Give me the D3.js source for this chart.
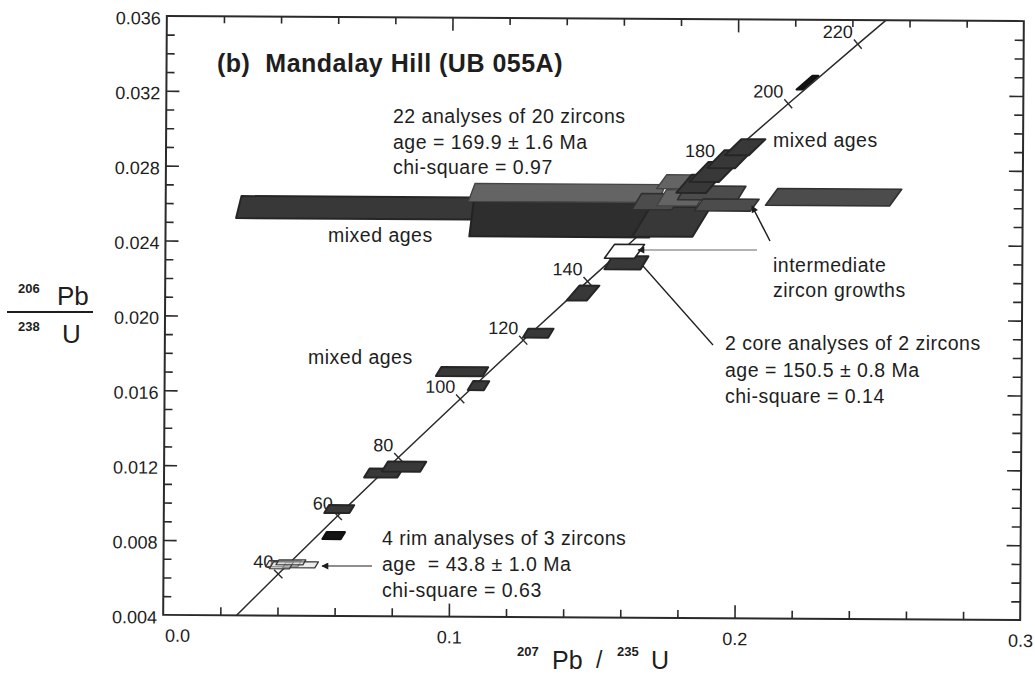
<!DOCTYPE html>
<html>
<head>
<meta charset="utf-8">
<script src="https://cdn.jsdelivr.net/npm/d3@7"></script>
<style>
  body { margin: 0; background: #fff; }
  svg text { font-family: "Liberation Sans", Arial, Helvetica, sans-serif; fill: #1e1e1e; }
</style>
</head>
<body>
<svg id="chart" width="1035" height="676"></svg>
<script>
// ---- axis ticks ----
const xMajorTicks = [0.0, 0.1, 0.2, 0.3];
const xMajorLabels = ["0.0", "0.1", "0.2", "0.3"];
const yMajorTicks = [0.004, 0.008, 0.012, 0.016, 0.020, 0.024, 0.028, 0.032, 0.036];
const yMajorLabels = ["0.004", "0.008", "0.012", "0.016", "0.020", "0.024", "0.028", "0.032", "0.036"];

// ---- concordia reference points (age in Ma, 207Pb/235U, 206Pb/238U) ----
const concAges = [20, 40, 60, 80, 100, 120, 140, 160, 180, 200, 220, 240];
const concX = [0.019892, 0.040180, 0.060872, 0.081975, 0.103498, 0.125449, 0.147837, 0.170670, 0.193957, 0.217707, 0.241930, 0.266635];
const concY = [0.003107, 0.006224, 0.009351, 0.012487, 0.015633, 0.018789, 0.021955, 0.025131, 0.028316, 0.031511, 0.034717, 0.037932];
const concLabelled = [40, 60, 80, 100, 120, 140, 180, 200, 220];

// ---- analyses: centre, 2-sigma half widths, error correlation, rendering kind ----
const anX   = [0.0961, 0.1386, 0.1404, 0.1771, 0.1719, 0.1806, 0.1911, 0.1964, 0.1778, 0.1866, 0.1918, 0.1974, 0.2027,
               0.2338, 0.2244, 0.1614, 0.1607, 0.1463, 0.1307, 0.1041, 0.1099, 0.0768, 0.0840, 0.0614, 0.0595,
               0.0420, 0.0480, 0.0413, 0.0446];
const anY   = [0.02581, 0.02528, 0.02667, 0.02517, 0.02624, 0.02645, 0.02672, 0.02608, 0.02731, 0.02720, 0.02784, 0.02853, 0.02917,
               0.02653, 0.03264, 0.02296, 0.02357, 0.02133, 0.01917, 0.01709, 0.01635, 0.01165, 0.01200, 0.00971, 0.00829,
               0.00677, 0.00672, 0.00669, 0.00685];
const anSx  = [0.0705, 0.0315, 0.0333, 0.0105, 0.0070, 0.0070, 0.0105, 0.0098, 0.0042, 0.0052, 0.0052, 0.0049, 0.0042,
               0.0217, 0.00105, 0.0063, 0.00525, 0.0035, 0.0044, 0.0082, 0.0028, 0.0058, 0.0067, 0.0044, 0.0032,
               0.0056, 0.0056, 0.0035, 0.0047];
const anSy  = [0.00059, 0.00096, 0.00048, 0.00080, 0.00043, 0.00043, 0.00037, 0.00032, 0.00037, 0.00048, 0.00053, 0.00048, 0.00043,
               0.00045, 0.00037, 0.00035, 0.00037, 0.00040, 0.00024, 0.00024, 0.00024, 0.00024, 0.00027, 0.00021, 0.00019,
               0.00016, 0.00016, 0.00019, 0.00013];
const anRho = [0.2, 0.1, 0.3, 0.5, 0.5, 0.5, 0.5, 0.6, 0.6, 0.7, 0.8, 0.8, 0.85,
               0.6, 0.95, 0.5, 0.6, 0.7, 0.5, 0.5, 0.5, 0.5, 0.5, 0.5, 0.5,
               0.5, 0.5, 0.5, 0.5];
const anKind = ["dark", "darker", "light", "dark", "mid", "light", "mid", "mid", "light", "dark", "dark", "dark", "dark",
                "mid", "black", "dark", "open", "dark", "dark", "dark", "dark", "dark", "dark", "dark", "black",
                "rim", "rim", "rim", "rim"];

const kindStyle = {
  darker: { fill: "#2e2e2e", stroke: "#232323", sw: 2 },
  dark:   { fill: "#383838", stroke: "#262626", sw: 2 },
  mid:    { fill: "#4c4c4c", stroke: "#303030", sw: 1.6 },
  light:  { fill: "#646464", stroke: "#444444", sw: 1.4 },
  black:  { fill: "#141414", stroke: "#111111", sw: 2 },
  open:   { fill: "#ffffff", stroke: "#222222", sw: 1.6 },
  rim:    { fill: "rgba(215,215,215,0.45)", stroke: "#3a3a3a", sw: 1.3 }
};

(function () {
const svg = d3.select("#chart");
const pLeft = 165, pRight = 1022, pTop = 18.5, pBottom = 617.5;

const x = d3.scaleLinear().domain([0, 0.3]).range([pLeft, pRight]);
const y = d3.scaleLinear().domain([0.004, 0.036]).range([pBottom, pTop]);

// the plotted frame sits very slightly turned
const plot = svg.append("g").attr("transform", "rotate(0.35,594,319)");

plot.append("defs").append("clipPath").attr("id", "plotClip")
  .append("rect").attr("x", pLeft).attr("y", pTop).attr("width", pRight - pLeft).attr("height", pBottom - pTop);

// ---- axes (ticks point inward) ----
const xMinor = d3.range(0.02, 0.3, 0.02).filter(v => Math.abs(v - 0.1) > 1e-6 && Math.abs(v - 0.2) > 1e-6);
const yMinor = d3.range(0.005, 0.036, 0.001).filter(v => !yMajorTicks.some(t => Math.abs(t - v) < 1e-7));

function styleAxis(g) {
  g.select(".domain").remove();
  g.selectAll(".tick line").attr("stroke", "#2a2a2a").attr("stroke-width", 1.6);
  g.selectAll(".tick text").attr("fill", "#1e1e1e").style("font-size", "18px")
    .style("font-family", '"Liberation Sans", Arial, sans-serif');
}

plot.append("g").attr("transform", `translate(0,${pBottom})`)
  .call(d3.axisBottom(x).tickValues(xMinor).tickSize(-8).tickFormat(""))
  .call(styleAxis);
const bx = plot.append("g").attr("transform", `translate(0,${pBottom})`)
  .call(d3.axisBottom(x).tickValues(xMajorTicks).tickSize(-13).tickPadding(14)
    .tickFormat((d, i) => xMajorLabels[i]))
  .call(styleAxis);
bx.selectAll(".tick text").filter((d, i) => i === 0).attr("dx", "14");
bx.selectAll(".tick line").filter(d => d === 0 || d === 0.3).remove();

plot.append("g").attr("transform", `translate(0,${pTop})`)
  .call(d3.axisTop(x).tickValues(xMinor).tickSize(-7).tickFormat(""))
  .call(styleAxis);
plot.append("g").attr("transform", `translate(0,${pTop})`)
  .call(d3.axisTop(x).tickValues([0.1, 0.2]).tickSize(-13).tickFormat(""))
  .call(styleAxis);

plot.append("g").attr("transform", `translate(${pLeft},0)`)
  .call(d3.axisLeft(y).tickValues(yMinor).tickSize(-8).tickFormat(""))
  .call(styleAxis);
const ly = plot.append("g").attr("transform", `translate(${pLeft},0)`)
  .call(d3.axisLeft(y).tickValues(yMajorTicks).tickSize(-13).tickPadding(6)
    .tickFormat((d, i) => yMajorLabels[i]))
  .call(styleAxis);
ly.selectAll(".tick text").attr("dy", "0.45em");
ly.selectAll(".tick line").filter(d => d === 0.004 || d === 0.036).remove();

plot.append("g").attr("transform", `translate(${pRight},0)`)
  .call(d3.axisRight(y).tickValues(yMinor).tickSize(-9).tickFormat(""))
  .call(styleAxis);
plot.append("g").attr("transform", `translate(${pRight},0)`)
  .call(d3.axisRight(y).tickValues(yMajorTicks.slice(1, -1)).tickSize(-14).tickFormat(""))
  .call(styleAxis);

// frame
plot.append("rect").attr("x", pLeft).attr("y", pTop)
  .attr("width", pRight - pLeft).attr("height", pBottom - pTop)
  .attr("fill", "none").attr("stroke", "#2a2a2a").attr("stroke-width", 2);

// ---- concordia ----
const conc = concAges.map((a, i) => ({ age: a, px: x(concX[i]), py: y(concY[i]) }));
plot.append("path")
  .datum(conc)
  .attr("clip-path", "url(#plotClip)")
  .attr("fill", "none").attr("stroke", "#2b2b2b").attr("stroke-width", 1.5)
  .attr("d", d3.line().x(d => d.px).y(d => d.py).curve(d3.curveCatmullRom));

const tickPts = conc.filter(d => d.age >= 40 && d.age <= 220).map(d => {
  const i = concAges.indexOf(d.age);
  const a = conc[i - 1], b = conc[i + 1];
  const dx = b.px - a.px, dy = b.py - a.py, len = Math.hypot(dx, dy);
  return { ...d, nx: -dy / len, ny: dx / len };
});
plot.append("g").selectAll("line").data(tickPts).join("line")
  .attr("x1", d => d.px - d.nx * 6).attr("y1", d => d.py - d.ny * 6)
  .attr("x2", d => d.px + d.nx * 6).attr("y2", d => d.py + d.ny * 6)
  .attr("stroke", "#2b2b2b").attr("stroke-width", 1.4);

plot.append("g").selectAll("text").data(tickPts.filter(d => concLabelled.includes(d.age))).join("text")
  .attr("x", d => d.px - 5).attr("y", d => d.py - 6)
  .attr("text-anchor", "end").style("font-size", "18px")
  .text(d => d.age);

// ---- analyses drawn as slanted slabs ----
const analyses = anX.map((v, i) => ({
  cx: v, cy: anY[i], sx: anSx[i], sy: anSy[i], rho: anRho[i], kind: anKind[i]
}));
const slab = d => {
  const px = x(d.cx), py = y(d.cy);
  const hw = x(d.cx + d.sx) - px, hh = y(d.cy - d.sy) - py;
  const L = d.rho * hh * 1.2;
  return d3.line()([
    [px - hw + L, py - hh], [px + hw + L, py - hh],
    [px + hw - L, py + hh], [px - hw - L, py + hh]
  ]) + "Z";
};
plot.append("g").selectAll("path").data(analyses).join("path")
  .attr("d", slab)
  .attr("fill", d => kindStyle[d.kind].fill)
  .attr("stroke", d => kindStyle[d.kind].stroke)
  .attr("stroke-width", d => kindStyle[d.kind].sw)
  .attr("stroke-linejoin", "round");

// ---- annotations ----
const ann = svg.append("g");
const font = "19.5px";

ann.append("text").attr("x", 217).attr("y", 72)
  .style("font-size", "25px").style("font-weight", "bold").style("letter-spacing", "0.5px")
  .attr("xml:space", "preserve").text("(b)  Mandalay Hill (UB 055A)");

function block(xp, yp, lines, gap) {
  lines.forEach((t, i) => {
    ann.append("text").attr("x", xp).attr("y", yp + i * gap)
      .style("font-size", font).style("letter-spacing", "0.5px")
      .attr("xml:space", "preserve").text(t);
  });
}
block(393, 123, ["22 analyses of 20 zircons", "age = 169.9 \u00b1 1.6 Ma", "chi-square = 0.97"], 25.5);
block(725, 350, ["2 core analyses of 2 zircons", "age = 150.5 \u00b1 0.8 Ma", "chi-square = 0.14"], 26.5);
block(382, 545, ["4 rim analyses of 3 zircons", "age  = 43.8 \u00b1 1.0 Ma", "chi-square = 0.63"], 26);
block(328, 242, ["mixed ages"], 0);
block(773, 147, ["mixed ages"], 0);
block(308, 364, ["mixed ages"], 0);
block(773, 272, ["intermediate", "zircon growths"], 24.5);

// arrows and leader lines
const defs = svg.append("defs");
defs.append("marker").attr("id", "head").attr("viewBox", "0 0 10 10")
  .attr("refX", 9).attr("refY", 5).attr("markerWidth", 9).attr("markerHeight", 7)
  .attr("markerUnits", "userSpaceOnUse").attr("orient", "auto")
  .append("path").attr("d", "M0,0 L10,5 L0,10 Z").attr("fill", "#1e1e1e");

ann.append("line").attr("x1", 372).attr("y1", 566).attr("x2", 322).attr("y2", 566)
  .attr("stroke", "#1e1e1e").attr("stroke-width", 1.2).attr("marker-end", "url(#head)");
ann.append("line").attr("x1", 757).attr("y1", 250).attr("x2", 638).attr("y2", 250)
  .attr("stroke", "#666").attr("stroke-width", 1.2).attr("marker-end", "url(#head)");
ann.append("line").attr("x1", 770).attr("y1", 241).attr("x2", 752).attr("y2", 206)
  .attr("stroke", "#1e1e1e").attr("stroke-width", 1.5).attr("marker-end", "url(#head)");
ann.append("line").attr("x1", 713).attr("y1", 345).attr("x2", 643).attr("y2", 266)
  .attr("stroke", "#1e1e1e").attr("stroke-width", 1.3);

// axis titles
const yt = svg.append("g");
yt.append("text").attr("x", 18).attr("y", 293).style("font-size", "13px").style("font-weight", "bold").text("206");
yt.append("text").attr("x", 57).attr("y", 305).style("font-size", "26px").text("Pb");
yt.append("line").attr("x1", 7).attr("x2", 93).attr("y1", 312).attr("y2", 312).attr("stroke", "#1e1e1e").attr("stroke-width", 2);
yt.append("text").attr("x", 18).attr("y", 331).style("font-size", "13px").style("font-weight", "bold").text("238");
yt.append("text").attr("x", 62).attr("y", 343).style("font-size", "26px").text("U");

const xt = svg.append("g");
xt.append("text").attr("x", 517).attr("y", 656).style("font-size", "13px").style("font-weight", "bold").text("207");
xt.append("text").attr("x", 552).attr("y", 669).style("font-size", "25px").text("Pb");
xt.append("text").attr("x", 596).attr("y", 668).style("font-size", "23px").text("/");
xt.append("text").attr("x", 617).attr("y", 656).style("font-size", "13px").style("font-weight", "bold").text("235");
xt.append("text").attr("x", 651).attr("y", 669).style("font-size", "25px").text("U");
})();
</script>
</body>
</html>
